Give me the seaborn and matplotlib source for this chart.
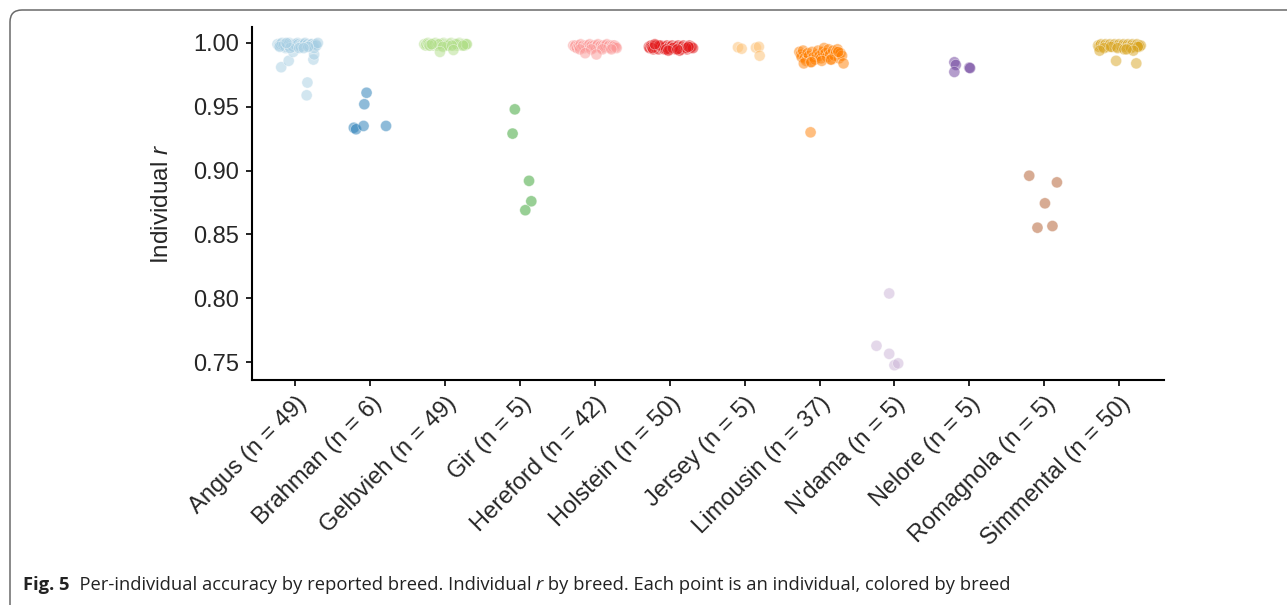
import pandas as pd
import matplotlib
matplotlib.use("Agg")
import matplotlib.pyplot as plt
import seaborn as sns
from matplotlib.patches import FancyBboxPatch
from matplotlib.transforms import IdentityTransform

# ----------------------------
# Data
# ----------------------------
breeds = ["Angus", "Brahman", "Gelbvieh", "Gir", "Hereford", "Holstein",
          "Jersey", "Limousin", "N'dama", "Nelore", "Romagnola", "Simmental"]
counts = [49, 6, 49, 5, 42, 50, 5, 37, 5, 5, 5, 50]
colors = ["#a6cee3", "#1f78b4", "#b2df8a", "#33a02c", "#fb9a99", "#e31a1c",
          "#fdbf6f", "#ff7f00", "#cab2d6", "#6a3d9a", "#b15928", "#d9a521"]

# per-individual r and horizontal jitter (fraction of a category slot)
angus_r = [0.981, 0.986, 0.987, 0.991, 0.969, 0.959, 0.993, 0.996,
           0.999, 0.998, 0.999, 1.000, 0.998, 0.999, 0.997, 0.999, 0.998, 1.000,
           0.999, 0.998, 0.997, 0.999, 0.999, 0.998, 1.000, 0.999, 0.998, 0.997,
           0.999, 0.998, 0.999, 1.000, 0.998, 0.999, 0.997, 0.998, 0.999, 0.999,
           0.998, 0.996, 0.999, 0.998, 1.000, 0.997, 0.996, 0.996, 0.997, 1.000, 0.996]
angus_dx = [-0.19, -0.09, 0.24, 0.25, 0.16, 0.15, -0.03, -0.13,
            -0.24, -0.22, -0.20, -0.18, -0.16, -0.15, -0.13, -0.11, -0.10, -0.08,
            -0.06, -0.05, -0.03, -0.02, 0.00, 0.01, 0.03, 0.04, 0.06, 0.07,
            0.09, 0.10, 0.12, 0.13, 0.15, 0.16, 0.18, 0.19, 0.21, 0.22,
            0.24, 0.25, 0.27, 0.28, 0.30, -0.21, -0.07, 0.05, 0.17, -0.12, 0.11]

brahman_r = [0.9336, 0.9324, 0.935, 0.935, 0.952, 0.961]
brahman_dx = [-0.22, -0.19, -0.09, 0.21, -0.08, -0.05]

gelbvieh_r = [0.999, 0.998, 0.999, 1.000, 0.999, 0.998, 0.999, 0.999, 0.998, 0.999,
              1.000, 0.999, 0.998, 0.999, 0.999, 0.998, 0.999, 1.000, 0.999, 0.998,
              0.999, 0.999, 0.998, 0.999, 1.000, 0.999, 0.998, 0.999, 0.999, 0.998,
              0.999, 1.000, 0.999, 0.998, 0.999, 0.999, 0.998, 0.999, 0.999, 0.998,
              0.999, 0.998, 0.999, 0.999, 0.998, 0.997, 0.998, 0.993, 0.9945]
gelbvieh_dx = [-0.28, -0.26, -0.25, -0.23, -0.22, -0.20, -0.19, -0.17, -0.16, -0.14,
               -0.13, -0.11, -0.10, -0.08, -0.07, -0.05, -0.04, -0.02, -0.01, 0.01,
               0.02, 0.04, 0.05, 0.07, 0.08, 0.10, 0.11, 0.13, 0.14, 0.16,
               0.17, 0.19, 0.20, 0.22, 0.23, 0.25, 0.26, 0.28, 0.29, -0.21,
               -0.09, 0.03, 0.15, -0.18, 0.24, -0.03, 0.09, -0.07, 0.11]

gir_r = [0.948, 0.929, 0.892, 0.876, 0.869]
gir_dx = [-0.07, -0.10, 0.12, 0.15, 0.07]

hereford_r = [0.998, 0.997, 0.998, 0.996, 0.998, 0.997, 0.999, 0.997, 0.998, 0.996,
              0.998, 0.997, 0.998, 0.999, 0.997, 0.998, 0.996, 0.998, 0.997, 0.998,
              0.999, 0.997, 0.998, 0.996, 0.998, 0.997, 0.998, 0.999, 0.997, 0.998,
              0.996, 0.998, 0.997, 0.998, 0.997, 0.996, 0.995, 0.995, 0.995, 0.995,
              0.992, 0.991]
hereford_dx = [-0.29, -0.27, -0.26, -0.24, -0.22, -0.21, -0.19, -0.17, -0.16, -0.14,
               -0.12, -0.11, -0.09, -0.07, -0.06, -0.04, -0.02, -0.01, 0.01, 0.03,
               0.04, 0.06, 0.08, 0.09, 0.11, 0.13, 0.14, 0.16, 0.18, 0.19,
               0.21, 0.23, 0.24, 0.26, 0.28, 0.29, -0.20, -0.05, 0.10, 0.22,
               -0.13, 0.02]

holstein_r = [0.997, 0.996, 0.998, 0.997, 0.995, 0.997, 0.998, 0.996, 0.997, 0.995,
              0.997, 0.998, 0.996, 0.997, 0.995, 0.997, 0.998, 0.996, 0.997, 0.995,
              0.997, 0.998, 0.996, 0.997, 0.995, 0.997, 0.998, 0.996, 0.997, 0.995,
              0.997, 0.998, 0.996, 0.997, 0.995, 0.997, 0.998, 0.996, 0.997, 0.996,
              0.996, 0.998, 0.995, 0.996, 0.994, 0.996, 0.999, 0.994, 0.995, 0.997]
holstein_dx = [-0.28, -0.27, -0.25, -0.24, -0.22, -0.21, -0.19, -0.18, -0.16, -0.15,
               -0.13, -0.12, -0.10, -0.09, -0.07, -0.06, -0.04, -0.03, -0.01, 0.00,
               0.02, 0.03, 0.05, 0.06, 0.08, 0.09, 0.11, 0.12, 0.14, 0.15,
               0.17, 0.18, 0.20, 0.21, 0.23, 0.24, 0.26, 0.27, 0.29, 0.31,
               -0.23, -0.14, -0.05, 0.04, 0.13, 0.22, -0.20, -0.02, 0.10, 0.25]

jersey_r = [0.9966, 0.9955, 0.9963, 0.997, 0.990]
jersey_dx = [-0.09, -0.04, 0.15, 0.19, 0.20]

limousin_r = [0.993, 0.991, 0.989, 0.994, 0.988, 0.986, 0.992, 0.990, 0.985, 0.993,
              0.989, 0.987, 0.991, 0.994, 0.990, 0.988, 0.993, 0.996, 0.992, 0.989,
              0.995, 0.991, 0.987, 0.994, 0.990, 0.993, 0.995, 0.988, 0.992, 0.990,
              0.984, 0.985, 0.986, 0.987, 0.993, 0.984, 0.930]
limousin_dx = [-0.27, -0.25, -0.24, -0.22, -0.20, -0.18, -0.16, -0.14, -0.12, -0.10,
               -0.08, -0.06, -0.04, -0.02, 0.00, 0.02, 0.04, 0.06, 0.08, 0.10,
               0.12, 0.14, 0.16, 0.18, 0.20, 0.22, 0.24, 0.26, 0.28, 0.30,
               -0.21, -0.11, 0.03, 0.15, 0.25, 0.32, -0.12]

ndama_r = [0.8038, 0.7628, 0.7565, 0.7476, 0.749]
ndama_dx = [-0.07, -0.24, -0.07, 0.00, 0.05]

nelore_r = [0.9849, 0.9828, 0.9773, 0.9807, 0.9803]
nelore_dx = [-0.20, -0.18, -0.20, 0.00, 0.01]

romagnola_r = [0.896, 0.8908, 0.8744, 0.8553, 0.8566]
romagnola_dx = [-0.20, 0.17, 0.01, -0.09, 0.11]

simmental_r = [0.998, 0.997, 0.998, 0.999, 0.998, 0.997, 0.998, 0.999, 0.998, 0.997,
               0.998, 0.999, 0.998, 0.997, 0.998, 0.999, 0.998, 0.997, 0.998, 0.999,
               0.998, 0.997, 0.998, 0.999, 0.998, 0.997, 0.998, 0.999, 0.998, 0.997,
               0.998, 0.999, 0.998, 0.997, 0.998, 0.999, 0.998, 0.997, 0.998, 0.996,
               0.997, 0.996, 0.995, 0.996, 0.997, 0.994, 0.994, 0.995, 0.986, 0.984]
simmental_dx = [-0.28, -0.27, -0.25, -0.24, -0.22, -0.21, -0.19, -0.18, -0.16, -0.15,
                -0.13, -0.12, -0.10, -0.09, -0.07, -0.06, -0.04, -0.03, -0.01, 0.00,
                0.02, 0.03, 0.05, 0.06, 0.08, 0.09, 0.11, 0.12, 0.14, 0.15,
                0.17, 0.18, 0.20, 0.21, 0.23, 0.24, 0.26, 0.27, 0.29, -0.20,
                -0.11, -0.02, 0.07, 0.16, 0.25, -0.26, 0.19, 0.10, -0.04, 0.23]

r_lists = [angus_r, brahman_r, gelbvieh_r, gir_r, hereford_r, holstein_r,
           jersey_r, limousin_r, ndama_r, nelore_r, romagnola_r, simmental_r]
dx_lists = [angus_dx, brahman_dx, gelbvieh_dx, gir_dx, hereford_dx, holstein_dx,
            jersey_dx, limousin_dx, ndama_dx, nelore_dx, romagnola_dx, simmental_dx]

yticks = [0.75, 0.80, 0.85, 0.90, 0.95, 1.00]
caption_parts = [("Fig. 5", "bold", "normal"),
                 ("  Per-individual accuracy by reported breed. Individual ", "normal", "normal"),
                 ("r", "normal", "italic"),
                 (" by breed. Each point is an individual, colored by breed", "normal", "normal")]

# ----------------------------
# Build long table
# ----------------------------
rows = []
for i, (b, rs, dxs) in enumerate(zip(breeds, r_lists, dx_lists)):
    for r, dx in zip(rs, dxs):
        rows.append({"breed": b, "pos": i + dx, "r": r})
df = pd.DataFrame(rows)
labels = [f"{b} (n = {n})" for b, n in zip(breeds, counts)]

# ----------------------------
# Plot
# ----------------------------
sns.set_style("ticks")
plt.rcParams["font.family"] = ["Liberation Sans", "DejaVu Sans"]
plt.rcParams["mathtext.fontset"] = "custom"
plt.rcParams["mathtext.rm"] = "Liberation Sans"
plt.rcParams["mathtext.it"] = "Liberation Sans:italic"

fig = plt.figure(figsize=(12.87, 6.05), dpi=100)
ax = fig.add_axes([252 / 1287, 1 - 380 / 605, (1164 - 252) / 1287, (380 - 27) / 605])

sns.scatterplot(data=df, x="pos", y="r", hue="breed", hue_order=breeds,
                palette=dict(zip(breeds, colors)), s=64, alpha=0.5,
                edgecolor="white", linewidth=0.5, legend=False, ax=ax)

ax.set_xlim(-0.58, 11.6)
ax.set_ylim(0.736, 1.0125)
ax.set_xticks(range(len(breeds)))
ax.set_xticklabels(labels, rotation=45, ha="right", va="top",
                   rotation_mode="anchor", fontsize=17)
ax.set_yticks(yticks)
ax.set_yticklabels([f"{t:.2f}" for t in yticks], fontsize=17)
ax.set_xlabel("")
ax.set_ylabel("Individual $r$", fontsize=17.5, labelpad=15)
ax.tick_params(axis="both", length=4, width=1.2, color="black", pad=5)
sns.despine(ax=ax)
for s in ["left", "bottom"]:
    ax.spines[s].set_linewidth(1.5)
    ax.spines[s].set_color("black")

# rounded frame around the figure
frame = FancyBboxPatch((10, -40), 1340, 635, boxstyle="round,pad=0,rounding_size=12",
                       transform=IdentityTransform(), facecolor="none",
                       edgecolor="#6a6a6a", linewidth=1.1)
fig.add_artist(frame)

# caption with mixed styles
fig.canvas.draw()
renderer = fig.canvas.get_renderer()
x = 23
for txt, weight, style in caption_parts:
    t = fig.text(x / 1287, 1 - 585 / 605, txt, fontsize=13.2, family="Open Sans",
                 weight=weight, style=style, va="center", ha="left", color="#222222")
    bb = t.get_window_extent(renderer=renderer)
    x += bb.width

fig.savefig("out.png", dpi=100)
